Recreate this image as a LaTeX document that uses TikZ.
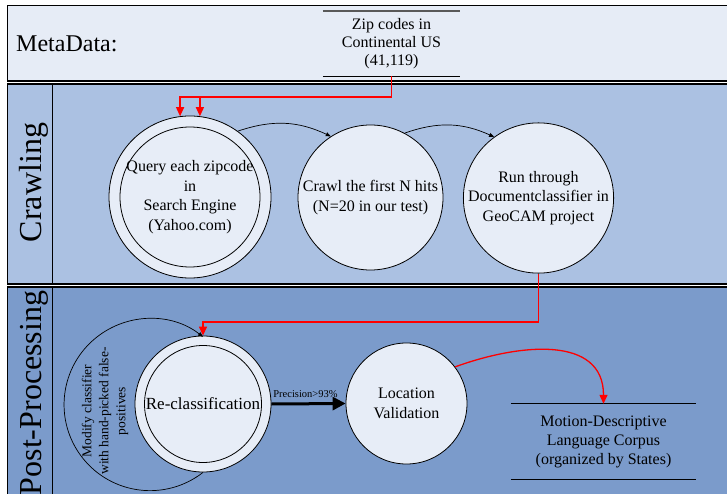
\documentclass[tikz,border=0pt]{standalone}
\usepackage{fontspec}
\setmainfont{Liberation Serif}
\usetikzlibrary{arrows.meta}
\definecolor{metafill}{HTML}{E6ECF6}
\definecolor{crawlfill}{HTML}{ABC1E2}
\definecolor{postfill}{HTML}{7B9BCB}
\definecolor{circfill}{HTML}{E7EDF7}
\newcommand{\ctext}{\fontsize{16}{19.5}\selectfont}
\tikzset{
  band/.style={draw=black, line width=1.6pt},
  circ/.style={circle, draw=black, line width=0.8pt, fill=circfill, inner sep=0pt, align=center, font=\ctext},
  redarr/.style={draw=red, line width=1.3pt, -{Triangle[length=9pt,width=8pt]}},
  flow/.style={draw=black, line width=0.7pt, -{Triangle[length=5pt,width=4pt]}},
  bigflow/.style={draw=black, line width=3pt, -{Triangle[length=13pt,width=13pt]}},
  lanelabel/.style={rotate=90, anchor=base, inner sep=0pt, font=\fontsize{32}{36}\selectfont}
}
\begin{document}
\begin{tikzpicture}[x=1pt,y=-1pt]
\useasboundingbox (0,0) rectangle (727,494);
\fill[white] (0,0) rectangle (727,494);
\begin{scope}
\clip (0,0) rectangle (727,494);
% bands
\draw[band, fill=metafill] (7.5,5.5) rectangle (740,81);
\draw[band, fill=crawlfill] (7.5,84) rectangle (740,284);
\draw[line width=1.2pt] (52.5,84) -- (52.5,284);
\draw[band, fill=postfill] (7.5,287) rectangle (740,510);
\draw[line width=1.2pt] (52.5,287) -- (52.5,510);

% lane labels
\node[anchor=west, inner sep=0pt, font=\fontsize{24}{28}\selectfont] (md) at (16,44) {MetaData:};
\node[lanelabel] (crl) at (41,182.5) {Crawling};
\node[lanelabel] (ppl) at (41,393) {Post-Processing};

% metadata store
\node[minimum width=137pt, minimum height=65pt, inner sep=0pt, align=center, font=\fontsize{16}{18}\selectfont] (zip) at (391.5,43.5) {Zip codes in\\Continental US\\(41,119)};
\draw[gray!70!black, line width=1.5pt] (zip.north west) -- (zip.north east);
\draw[black, line width=1pt] (zip.south west) -- (zip.south east);

% crawling nodes
\node[circ, minimum size=162pt] (q) at (190,197) {};
\draw[line width=0.8pt] (q.center) circle[radius=70pt];
\node[align=center, font=\ctext, inner sep=0pt] (qt) at (q.center) {Query each zipcode\\in\\Search Engine\\(Yahoo.com)};
\node[circ, minimum size=145pt] (c) at (370.5,197.5) {Crawl the first N hits\\(N=20 in our test)};
\node[circ, minimum size=145pt] (r) at (538.5,198) {Run through\\Documentclassifier in\\GeoCAM project};

% post-processing nodes
\node[circ, minimum size=136pt] (re) at (203,404) {};
\draw[line width=0.8pt] (re.center) circle[radius=58.5pt];
\node[font=\fontsize{17}{20}\selectfont, inner sep=0pt] (ret) at (re.center) {Re-classification};
\node[circ, minimum size=121pt, font=\fontsize{16}{20}\selectfont] (lv) at (406.5,403.5) {Location\\Validation};
\node[minimum width=185pt, minimum height=75pt, inner sep=0pt, align=center, font=\fontsize{16}{19}\selectfont] (m) at (603.5,441.5) {Motion-Descriptive\\Language Corpus\\(organized by States)};
\draw[line width=1pt] (m.north west) -- (m.north east);
\draw[line width=1pt] (m.south west) -- (m.south east);

% connectors
\coordinate (j) at (391.5,97);
\draw[redarr] (zip.south) -- (j) -| (q.97);
\draw[redarr] (q.83 |- j) -- (q.83);
\draw[flow] (q.54) to[bend left=22] (c.123);
\draw[flow] (c.62) to[bend left=22] (r.126);

\coordinate (k) at (0,322);
\draw[redarr] (r.south) -- (r.south |- k) -| (re.north);
\draw[flow] (re.south) arc[start angle=-52, end angle=-308, radius=86pt];
\node[rotate=90, align=center, inner sep=0pt, font=\fontsize{13.5}{17}\selectfont] (mod) at (105,411) {Modify classifier\\with hand-picked false-\\positives};

\draw[bigflow] (re.east) -- node[above, xshift=-3pt, inner sep=5pt, font=\fontsize{10.5}{12}\selectfont] (prec) {Precision>93\%} (lv.west);
\draw[redarr] (lv.37) to[out=20, in=90, looseness=1.15] (m.north);
\end{scope}
\end{tikzpicture}
\end{document}
